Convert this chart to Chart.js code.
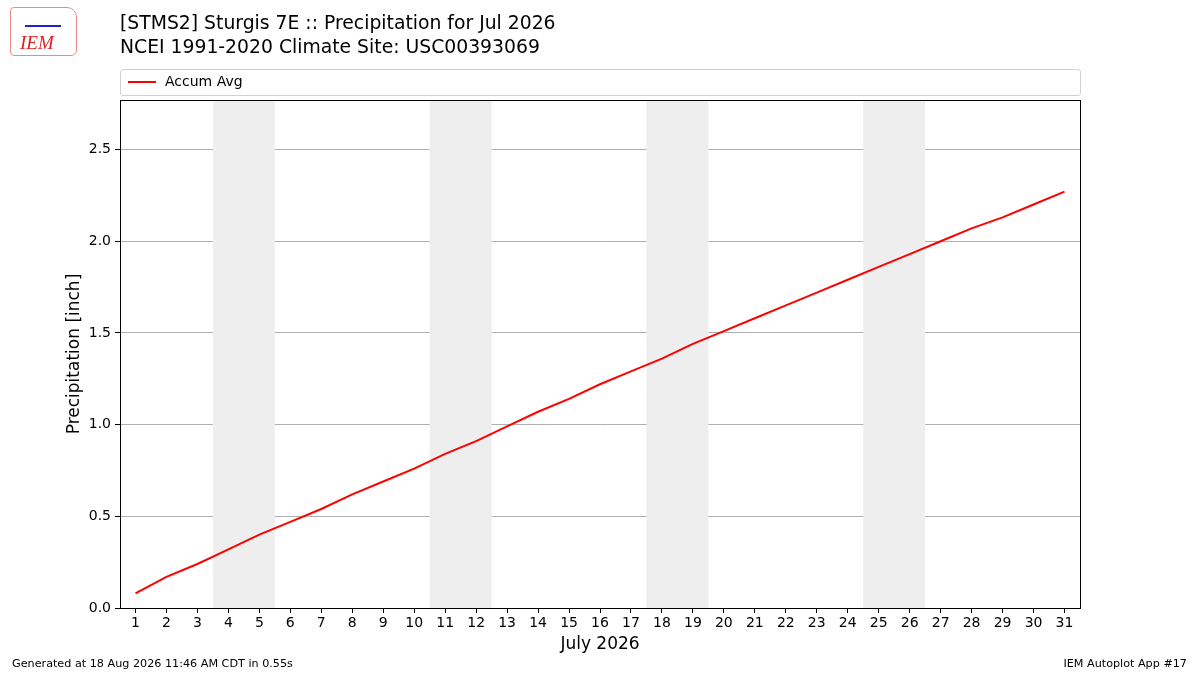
<!DOCTYPE html>
<html>
<head>
<meta charset="utf-8">
<script src="https://cdn.jsdelivr.net/npm/chart.js@4/dist/chart.umd.min.js"></script>
<style>
  body { margin: 0; background: #fff; font-family: "DejaVu Sans", sans-serif; }
  #wrap { position: relative; width: 1200px; height: 675px; overflow: hidden; }
  #chart { position: absolute; left: 0; top: 0; }
  .title { position: absolute; left: 120px; font-size: 18.8px; color: #000; white-space: nowrap; }
  #legend { position: absolute; left: 120px; top: 69px; width: 961px; height: 27px;
            border: 1px solid #d0d0d0; border-radius: 3px; box-sizing: border-box; }
  #legend .sw { position: absolute; left: 7px; top: 11px; width: 28px; height: 2px; background: #ff0000; }
  #legend .lb { position: absolute; left: 44px; top: 3px; font-size: 14px; }
  .foot { position: absolute; top: 657px; font-size: 11.2px; }
  #logo { position: absolute; left: 10px; top: 7px; width: 67px; height: 49px;
          border: 1px solid #e88; border-radius: 4px 10px 6px 4px; box-sizing: border-box; }
  #logo span { position: absolute; left: 9px; top: 24px; font: italic 19px "Liberation Serif", serif; color: #d22; }
  #logo i { position: absolute; left: 14px; top: 17px; width: 36px; height: 2px; background: #22c; }
</style>
</head>
<body>
<div id="wrap">
  <canvas id="chart" width="1200" height="675"></canvas>
  <div id="logo"><i></i><span>IEM</span></div>
  <div class="title" style="top:12px">[STMS2] Sturgis 7E :: Precipitation for Jul 2026</div>
  <div class="title" style="top:36px">NCEI 1991-2020 Climate Site: USC00393069</div>
  <div id="legend"><div class="sw"></div><div class="lb">Accum Avg</div></div>
  <div class="foot" style="left:12px">Generated at 18 Aug 2026 11:46 AM CDT in 0.55s</div>
  <div class="foot" style="right:13px">IEM Autoplot App #17</div>
</div>
<script>
// July 2026 days and accumulated average precipitation (inch)
const days = [1,2,3,4,5,6,7,8,9,10,11,12,13,14,15,16,17,18,19,20,21,22,23,24,25,26,27,28,29,30,31];
const accumAvg = [0.08,0.17,0.24,0.32,0.40,0.47,0.54,0.62,0.69,0.76,0.84,0.91,0.99,1.07,1.14,1.22,
                  1.29,1.36,1.44,1.51,1.58,1.65,1.72,1.79,1.86,1.93,2.00,2.07,2.13,2.20,2.27];
const yTicks = [0.0,0.5,1.0,1.5,2.0,2.5];
// weekend spans [start, end] in day units
const weekends = [[3.5,5.5],[10.5,12.5],[17.5,19.5],[24.5,26.5]];

const weekendShade = {
  id: 'weekendShade',
  beforeDatasetsDraw(chart) {
    const { ctx, chartArea: a, scales: { x } } = chart;
    ctx.save();
    ctx.fillStyle = '#eeeeee';
    weekends.forEach(function(w) {
      const x0 = x.getPixelForValue(w[0]), x1 = x.getPixelForValue(w[1]);
      ctx.fillRect(x0, a.top, x1 - x0, a.bottom - a.top);
    });
    ctx.restore();
  }
};

const frame = {
  id: 'frame',
  afterDraw(chart) {
    const { ctx, chartArea: a } = chart;
    ctx.save();
    ctx.strokeStyle = '#000';
    ctx.lineWidth = 1;
    ctx.strokeRect(Math.round(a.left) + 0.5, Math.round(a.top) + 0.5,
                   Math.round(a.right - a.left), Math.round(a.bottom - a.top));
    ctx.restore();
  }
};

const tickFont = { family: 'DejaVu Sans', size: 14 };
const titleFont = { family: 'DejaVu Sans', size: 17 };

new Chart(document.getElementById('chart'), {
  type: 'line',
  data: {
    datasets: [{
      label: 'Accum Avg',
      data: days.map((d, i) => ({ x: d, y: accumAvg[i] })),
      borderColor: '#ff0000',
      borderWidth: 2,
      pointRadius: 0,
      tension: 0,
      fill: false
    }]
  },
  options: {
    responsive: false,
    animation: false,
    layout: { padding: { left: 64, right: 120, top: 100, bottom: 20 } },
    plugins: { legend: { display: false }, tooltip: { enabled: false } },
    scales: {
      x: {
        type: 'linear', min: 0.5, max: 31.5,
        afterBuildTicks(s) { s.ticks = days.map(v => ({ value: v })); },
        afterFit(s) { s.height = 47; },
        ticks: { color: '#000', font: tickFont, padding: 2, maxRotation: 0, autoSkip: false },
        grid: { drawOnChartArea: false, color: '#000', tickLength: 5 },
        border: { color: '#000' },
        title: { display: true, text: 'July 2026', color: '#000', font: titleFont, padding: 0 }
      },
      y: {
        min: 0, max: 2.77,
        afterBuildTicks(s) { s.ticks = yTicks.map(v => ({ value: v })); },
        afterFit(s) { s.width = 56; },
        ticks: { color: '#000', font: tickFont, padding: 4, callback: v => v.toFixed(1) },
        grid: { color: '#b0b0b0', tickColor: '#000', tickLength: 5 },
        border: { color: '#000' },
        title: { display: true, text: 'Precipitation [inch]', color: '#000', font: titleFont, padding: 0 }
      }
    }
  },
  plugins: [weekendShade, frame]
});
</script>
</body>
</html>
